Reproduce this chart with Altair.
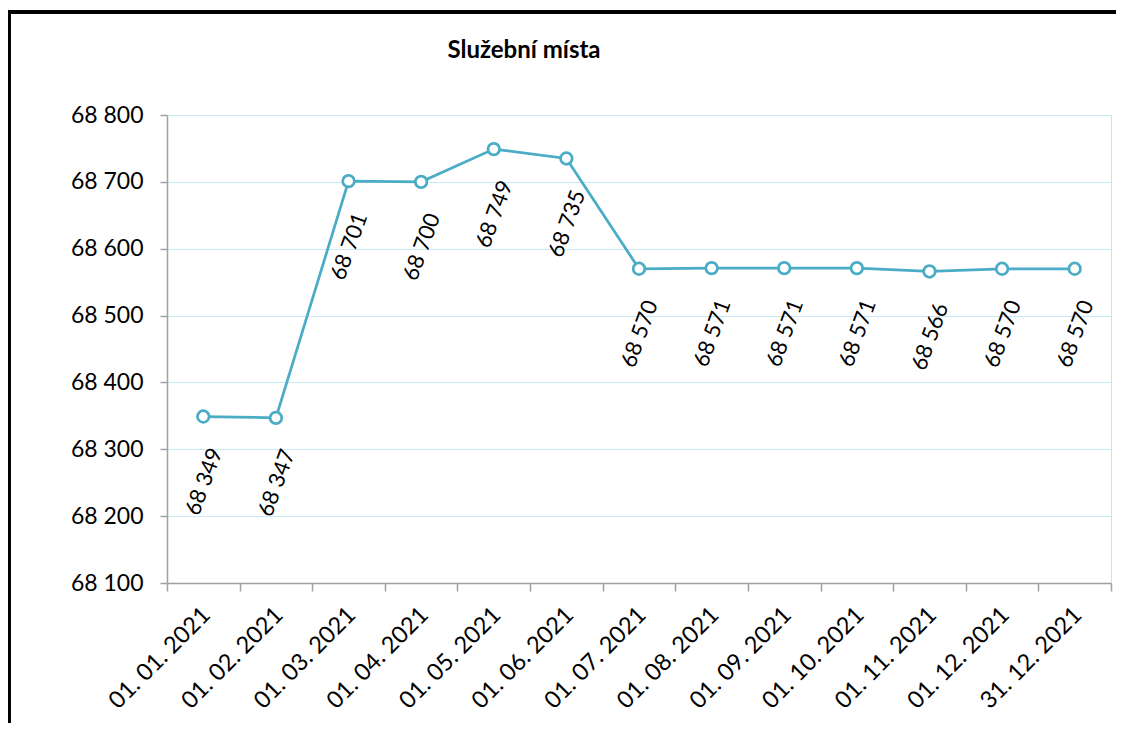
import altair as alt
import pandas as pd

# ---- data ----
dates = ["01. 01. 2021", "01. 02. 2021", "01. 03. 2021", "01. 04. 2021",
         "01. 05. 2021", "01. 06. 2021", "01. 07. 2021", "01. 08. 2021",
         "01. 09. 2021", "01. 10. 2021", "01. 11. 2021", "01. 12. 2021",
         "31. 12. 2021"]
values = [68349, 68347, 68701, 68700, 68749, 68735, 68570, 68571,
          68571, 68571, 68566, 68570, 68570]
y_ticks = [68100, 68200, 68300, 68400, 68500, 68600, 68700, 68800]
title_text = "Služební místa"

df = pd.DataFrame({"date": dates, "value": values})

FONT = "Lato"
LINE = "#4bacc6"
W, H = 944, 468
PAD = {"left": 159, "top": 107, "right": 5, "bottom": 140}

x_enc = alt.X("date:N", sort=None,
              scale=alt.Scale(paddingInner=0, paddingOuter=0),
              axis=alt.Axis(title=None, labelAngle=-45, labelAlign="right",
                            labelBaseline="middle", labelPadding=20,
                            labelOffset=3, tickBand="extent", tickSize=8,
                            grid=False, labelFontSize=23.5, labelFont=FONT,
                            labelColor="#000000", domainColor="#a0a0a0",
                            tickColor="#a0a0a0", domainWidth=1.5,
                            tickWidth=1.5))
y_enc = alt.Y("value:Q",
              scale=alt.Scale(domain=[68100, 68800], nice=False, zero=False),
              axis=alt.Axis(title=None, values=y_ticks, tickSize=7,
                            labelPadding=17, labelFontSize=23,
                            labelFont=FONT, labelColor="#000000",
                            labelExpr="replace(format(datum.value, ','), ',', ' ')",
                            domainColor="#a0a0a0", tickColor="#a0a0a0",
                            domainWidth=1.5, tickWidth=1.5,
                            gridColor="#c8e9f7", gridWidth=1))

base = alt.Chart(df)

line = base.mark_line(color=LINE, strokeWidth=2.75).encode(x=x_enc, y=y_enc)
points = base.mark_point(filled=True, fill="white", stroke=LINE,
                         strokeWidth=2.75, size=135, opacity=1).encode(
    x="date:N", y="value:Q")
labels = base.transform_calculate(
    lab="replace(format(datum.value, ','), ',', ' ')"
).mark_text(angle=290, align="center", baseline="middle", dx=-61, dy=23,
            fontSize=22, font=FONT, color="#000000").encode(
    x="date:N", y="value:Q", text="lab:N")

title = alt.Chart(pd.DataFrame({"t": [title_text]})).mark_text(
    font=FONT, fontSize=24, fontWeight="bold", color="#000000",
    align="center", baseline="alphabetic").encode(
    x=alt.value(357), y=alt.value(-57), text="t:N")

border_top = alt.Chart(df).mark_rule(color="black", strokeWidth=2.5).encode(
    x=alt.value(-PAD["left"]), x2=alt.value(W + PAD["right"]),
    y=alt.value(-103))
border_left = alt.Chart(df).mark_rule(color="black", strokeWidth=2.5).encode(
    x=alt.value(-PAD["left"] + 1), y=alt.value(-104),
    y2=alt.value(H + PAD["bottom"]))

chart = alt.layer(line, points, labels, title, border_top, border_left).properties(
    width=W, height=H,
    autosize=alt.AutoSizeParams(type="none"),
    padding=PAD,
).configure_view(stroke=None).configure(background="white")

chart.save("out.html", embed_options={"renderer": "svg", "actions": False})
